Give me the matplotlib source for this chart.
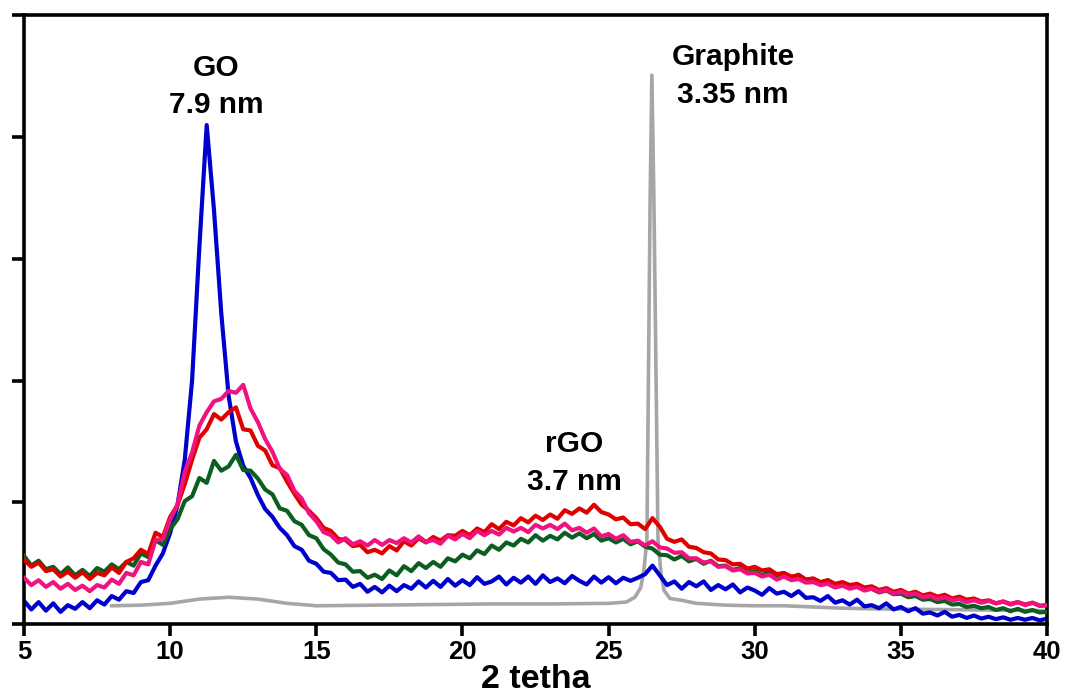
import numpy as np
import matplotlib
matplotlib.use("Agg")
import matplotlib.pyplot as plt

# 2-theta grid of the scans (0.25 deg step), intensity in arbitrary units
two_theta = np.arange(5, 40.001, 0.25)

go = [3.8, 2.4, 3.6, 2.2,
      3.4, 2.0, 3.1, 2.5,
      3.6, 2.6, 3.9, 3.2,
      4.6, 4.0, 5.4, 5.1,
      6.9, 7.2, 9.6, 11.6,
      15.0, 19.5, 27.0, 40.0,
      62.0, 82.0, 68.0, 51.0,
      37.5, 30.0, 26.0, 24.0,
      21.2, 18.9, 17.6, 15.8,
      14.6, 12.8, 12.2, 10.4,
      9.9, 8.6, 8.4, 7.2,
      7.3, 6.1, 6.6, 5.3,
      6.1, 5.2, 6.3, 5.4,
      6.4, 5.8, 7.0, 6.0,
      7.1, 6.1, 7.4, 6.3,
      7.2, 6.4, 7.7, 6.6,
      7.0, 7.8, 6.5, 7.6,
      6.8, 7.8, 6.6, 8.0,
      6.9, 7.5, 6.7, 7.9,
      7.1, 6.5, 7.8, 6.8,
      7.7, 6.7, 7.6, 7.1,
      7.6, 8.2, 9.6, 8.0,
      6.4, 7.0, 5.8, 6.9,
      6.2, 7.0, 5.6, 6.4,
      5.7, 6.5, 5.2, 6.0,
      5.5, 4.8, 5.9, 5.0,
      5.3, 4.6, 5.4, 4.3,
      4.4, 3.8, 4.6, 3.5,
      3.9, 3.2, 4.0, 2.9,
      3.1, 2.6, 3.4, 2.4,
      2.8, 2.1, 2.6, 1.7,
      1.9, 1.4, 2.0, 1.2,
      1.5, 1.0, 1.4, 0.9,
      1.2, 0.8, 1.1, 0.7,
      1.0, 0.7, 1.0, 0.6,
      0.9]

green = [11.2, 9.6, 10.4, 9.0,
         9.4, 8.2, 9.3, 8.0,
         8.9, 7.9, 9.2, 8.6,
         9.8, 9.0, 10.2, 9.6,
         11.6, 11.0, 13.8, 13.0,
         15.6, 17.2, 20.2, 21.0,
         24.0, 23.2, 26.8, 25.2,
         25.9, 27.8, 25.3, 25.2,
         23.9, 22.1, 21.3, 19.0,
         18.6, 16.9, 16.3, 14.6,
         14.1, 12.3, 11.4, 10.1,
         9.8, 8.6, 8.7, 7.6,
         8.1, 7.4, 8.8, 8.0,
         9.5, 8.7, 10.0, 9.2,
         10.2, 9.4, 10.8, 10.3,
         11.4, 10.8, 12.1, 11.5,
         12.9, 12.2, 13.4, 12.9,
         14.0, 13.4, 14.6, 13.7,
         14.5, 13.9, 15.0, 14.2,
         14.9, 14.1, 14.8, 13.7,
         14.1, 13.4, 14.0, 13.1,
         13.6, 12.7, 12.4, 11.4,
         11.3, 10.6, 11.2, 10.3,
         10.7, 9.9, 10.4, 9.5,
         9.6, 8.9, 9.2, 8.4,
         8.7, 8.0, 8.6, 7.9,
         8.3, 7.6, 8.1, 7.3,
         7.4, 6.8, 7.2, 6.5,
         6.6, 6.0, 6.3, 5.7,
         5.8, 5.2, 5.5, 4.9,
         5.0, 4.4, 4.6, 4.0,
         4.1, 3.6, 3.8, 3.2,
         3.3, 2.8, 3.0, 2.6,
         2.8, 2.3, 2.6, 2.1,
         2.5, 2.0, 2.3, 1.9,
         2.0]

red = [10.6, 9.4, 10.1, 8.7,
       9.0, 7.8, 8.6, 7.6,
       8.5, 7.4, 8.4, 8.0,
       9.3, 8.4, 10.2, 10.8,
       12.2, 11.5, 15.0, 14.3,
       17.6, 19.5, 23.0, 27.0,
       30.6, 32.0, 34.5, 33.6,
       34.8, 35.6, 32.0, 31.8,
       29.3, 28.5, 26.1, 25.6,
       23.4, 21.4, 19.6, 18.6,
       17.4, 15.8, 15.3, 14.0,
       13.8, 12.8, 13.0, 11.8,
       12.2, 11.6, 12.8, 12.1,
       13.6, 12.9, 14.1, 13.4,
       14.3, 13.7, 14.6, 14.5,
       15.3, 14.6, 15.7, 15.1,
       16.4, 15.6, 16.8, 16.2,
       17.4, 16.7, 17.8, 17.1,
       18.0, 17.3, 18.7, 18.1,
       19.0, 18.3, 19.6, 18.4,
       18.0, 17.2, 17.5, 16.4,
       16.5, 15.6, 17.4, 16.0,
       14.0, 13.5, 13.9, 12.7,
       12.5, 11.8, 11.6, 10.6,
       10.5, 9.8, 9.9, 9.1,
       9.4, 8.8, 9.0, 8.2,
       8.4, 7.8, 8.0, 7.3,
       7.5, 6.9, 7.2, 6.6,
       6.9, 6.4, 6.6, 6.0,
       6.2, 5.6, 5.9, 5.3,
       5.6, 5.0, 5.3, 4.7,
       5.0, 4.5, 4.8, 4.2,
       4.5, 4.0, 4.2, 3.7,
       3.9, 3.4, 3.7, 3.3,
       3.6, 3.2, 3.5, 3.0,
       3.1]

pink = [7.6, 6.4, 7.2, 6.1,
        6.9, 5.8, 6.6, 5.6,
        6.3, 5.4, 6.4, 6.0,
        7.3, 6.6, 8.4, 8.0,
        10.2, 9.8, 13.8, 14.0,
        17.2, 19.6, 25.0, 28.2,
        32.6, 34.8, 36.6, 37.0,
        38.3, 38.0, 39.3, 35.4,
        33.2, 30.4, 28.3, 25.5,
        24.5, 21.9, 20.6, 18.2,
        16.9, 15.1, 14.6, 13.4,
        14.1, 13.1, 13.6, 12.9,
        13.8, 13.0, 13.8, 13.3,
        14.1, 13.4, 14.4, 13.5,
        13.8, 13.2, 14.5, 13.9,
        14.8, 14.1, 15.3, 14.6,
        15.3, 14.7, 15.8, 15.2,
        15.8, 15.1, 16.3, 15.7,
        16.3, 15.6, 16.5, 15.4,
        15.8, 15.0, 15.7, 14.4,
        14.8, 14.0, 14.6, 13.5,
        13.7, 12.9, 13.6, 12.6,
        12.4, 11.7, 11.8, 10.8,
        10.8, 10.1, 10.3, 9.4,
        9.5, 8.8, 9.0, 8.3,
        8.4, 7.8, 8.1, 7.3,
        7.8, 7.2, 7.4, 6.8,
        6.9, 6.4, 6.6, 6.0,
        6.3, 5.8, 6.1, 5.5,
        5.8, 5.3, 5.6, 5.0,
        5.3, 4.8, 5.0, 4.4,
        4.6, 4.1, 4.4, 3.9,
        4.1, 3.6, 3.9, 3.5,
        3.8, 3.4, 3.7, 3.2,
        3.6, 3.1, 3.5, 3.0,
        3.1]

# graphite was measured on its own, sharper grid around the 002 reflection
graphite_x = [8.0, 9, 10, 11, 12, 13, 14, 15, 17, 19, 21, 23, 25, 25.6, 25.9,
              26.1, 26.2, 26.31, 26.42, 26.48, 26.55, 26.69, 26.8, 26.9, 27.1,
              27.5, 28, 29, 30, 31, 32, 33, 34, 36, 38, 40]
graphite_y = [3.0, 3.1, 3.4, 4.1, 4.4, 4.1, 3.4, 3.0, 3.1, 3.2, 3.3, 3.3, 3.4,
              3.6, 4.4, 6.0, 8.5, 13.8, 69.7, 90.2, 69.7, 13.8, 8.0, 5.5, 4.2,
              3.9, 3.4, 3.1, 3.0, 3.0, 2.8, 2.6, 2.5, 2.4, 2.3, 2.2]

x_ticks = [5, 10, 15, 20, 25, 30, 35, 40]

plt.rcParams['font.family'] = ['Liberation Sans', 'DejaVu Sans']
plt.rcParams['font.weight'] = 'bold'

fig = plt.figure(figsize=(10.67, 6.97), dpi=100)
ax = fig.add_axes([0.0225, 0.1047, 0.9588, 0.8731])

lw = 3.0
ax.plot(graphite_x, graphite_y, color='#a6a6a6', lw=2.6, zorder=1)
ax.plot(two_theta, go, color='#0000cc', lw=lw, zorder=2)
ax.plot(two_theta, green, color='#0b5e1f', lw=lw, zorder=3)
ax.plot(two_theta, red, color='#e00000', lw=lw, zorder=4)
ax.plot(two_theta, pink, color='#f2127f', lw=lw, zorder=5)

ax.set_xlim(5, 40)
ax.set_ylim(0, 100)
ax.set_xticks(x_ticks)
ax.set_yticks([0, 20, 40, 60, 80, 100])
ax.set_yticklabels([])
for s in ax.spines.values():
    s.set_linewidth(2.6)
ax.tick_params(axis='both', width=2.6, length=8.5, direction='out')
ax.tick_params(axis='x', labelsize=18.5, pad=3)
ax.set_xlabel('2 tetha', fontsize=24.5, fontweight='bold', labelpad=0)

ann = dict(fontsize=21.5, fontweight='bold', ha='center', va='baseline')
ax.text(11.57, 90.1, 'GO', **ann)
ax.text(11.57, 84.0, '7.9 nm', **ann)
ax.text(29.25, 91.9, 'Graphite', **ann)
ax.text(29.25, 85.6, '3.35 nm', **ann)
ax.text(23.83, 28.3, 'rGO', **ann)
ax.text(23.83, 22.0, '3.7 nm', **ann)

fig.savefig('out.png', dpi=100)
